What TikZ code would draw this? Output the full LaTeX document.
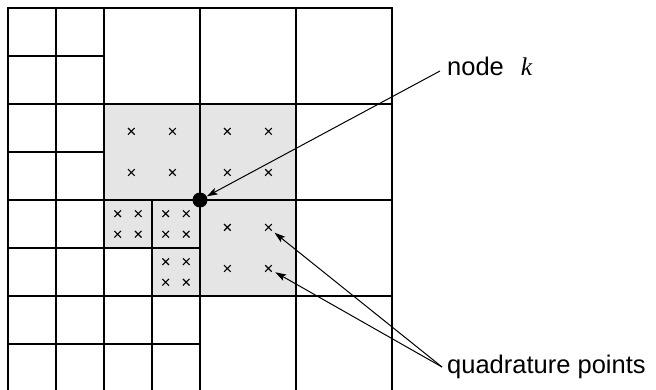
\documentclass[tikz,border=0pt]{standalone}
\usepackage{fontspec}
\setmainfont{Liberation Sans}
\newfontfamily\kserif{Liberation Serif}
\usetikzlibrary{arrows.meta}
\tikzset{
  gridline/.style={line width=2.3pt, line cap=rect},
  cellfill/.style={fill=black!10},
  qcross/.pic={\draw[line width=1.1pt] (-3.3,-3.3) -- (3.3,3.3) (-3.3,3.3) -- (3.3,-3.3);},
  dotnode/.style={circle, fill=black, inner sep=0pt, minimum size=15pt},
  lbltext/.style={inner sep=0pt, anchor=base west, font=\fontsize{25.5}{30}\selectfont},
  pointer/.style={-{Stealth[length=11pt,width=7pt,inset=2.5pt]}, line width=1pt},
}
\begin{document}
\begin{tikzpicture}[x=1pt,y=-1pt]
\useasboundingbox (0,0) rectangle (656,390);
\clip (0,0) rectangle (656,390);
% shaded cells
\fill[cellfill] (104,104) rectangle (296,200);
\fill[cellfill] (200,200) rectangle (296,296);
\fill[cellfill] (104,200) rectangle (200,248);
\fill[cellfill] (152,248) rectangle (200,296);
% quadrature points
\foreach \cx/\cy/\s in {104/104/96, 200/104/96, 200/200/96, 104/200/48, 152/200/48, 152/248/48} {
  \foreach \fx in {0.285,0.713} {
    \foreach \fy in {0.285,0.713} {
      \pic at ({\cx+\fx*\s},{\cy+\fy*\s}) {qcross};
    }
  }
}
% grid lines
\draw[gridline] (8,8) rectangle (392,392);
\draw[gridline] (56,8) -- (56,392) (104,8) -- (104,392) (152,200) -- (152,392)
  (200,8) -- (200,392) (296,8) -- (296,392);
\draw[gridline] (8,56) -- (104,56) (8,104) -- (392,104) (8,152) -- (104,152)
  (8,200) -- (392,200) (8,248) -- (200,248) (8,296) -- (392,296) (8,344) -- (200,344);
% named points
\node[dotnode] (k) at (200,200) {};
\coordinate (q1) at (268.3,227.7);
\coordinate (q2) at (268.3,268.3);
% labels
\node[lbltext] (lblk) at (447,76) {node\hspace{17pt}{\kserif\itshape k}};
\node[lbltext] (lblq) at (447,373) {quadrature points};
% pointers
\draw[pointer] ([xshift=-7pt,yshift=5pt]lblk.base west) -- (k);
\draw[pointer, shorten >=8pt] ([xshift=-5pt,yshift=6pt]lblq.base west) -- (q1);
\draw[pointer, shorten >=8pt] ([xshift=-5pt,yshift=6pt]lblq.base west) -- (q2);
\end{tikzpicture}
\end{document}
